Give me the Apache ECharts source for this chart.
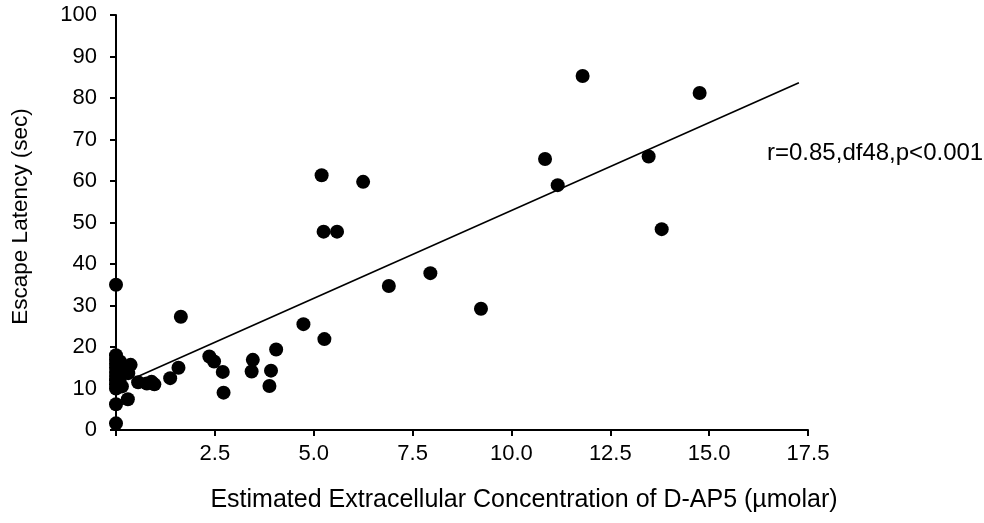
<!DOCTYPE html>
<html>
<head>
    <meta charset="utf-8"/>
    <title>Escape latency vs D-AP5</title>
    <script src="https://cdn.jsdelivr.net/npm/echarts@6/dist/echarts.min.js"></script>
    <style>
        html, body { margin: 0; padding: 0; background: #fff; }
        #mychart { width: 984px; height: 523px; }
    </style>
</head>
<body>
<div id="mychart"></div>
<script>
    // concentration (umolar) of each animal
    var concX = [
        0, 1.64, 4.74, 4.05, 2.36, 2.48, 3.46, 3.43, 3.92, 3.88,
        2.70, 2.72, 1.58, 1.37, 0.97, 0.78, 0.56, 0.37, 0.30, 0,
        0, 5.27, 5.20, 6.25, 5.25, 5.59, 6.90, 7.95, 9.23, 10.85,
        11.17, 11.80, 13.47, 13.80, 14.76,
        0, 0, 0, 0, 0, 0, 0, 0, 0, 0.10, 0.10, 0.15, 0.20, 0.31, 0.90
    ];
    // escape latency (sec)
    var latencyY = [
        35, 27.3, 25.5, 19.4, 17.7, 16.5, 16.9, 14.1, 14.3, 10.6,
        14.0, 9.0, 15.0, 12.5, 11.0, 11.2, 11.5, 15.7, 7.4, 6.2,
        1.6, 21.9, 61.4, 59.8, 47.8, 47.8, 34.7, 37.8, 29.2, 65.3,
        59.0, 85.3, 65.9, 48.4, 81.2,
        18, 17, 16, 15, 14, 13, 12, 11, 10, 16.5, 12.5, 10.5, 14.5, 13.7, 11.6
    ];
    // fitted regression line ends
    var fitX = [0.44, 17.27];
    var fitY = [12.4, 83.7];
    var statText = 'r=0.85,df48,p<0.001';

    var points = [];
    for (var i = 0; i < concX.length; i++) {
        points.push([concX[i], latencyY[i]]);
    }
    var fitLine = [];
    for (var j = 0; j < fitX.length; j++) {
        fitLine.push([fitX[j], fitY[j]]);
    }

    var font = 'Liberation Sans, Arial, sans-serif';
    var myChart = echarts.init(document.getElementById('mychart'));
    var option = {
        animation: false,
        grid: { left: 116, right: 176, top: 15, bottom: 93 },
        xAxis: {
            type: 'value',
            min: 0,
            max: 17.5,
            interval: 2.5,
            splitLine: { show: false },
            axisLine: { lineStyle: { color: '#000', width: 2 } },
            axisTick: { inside: false, length: 6, lineStyle: { color: '#000', width: 2 } },
            axisLabel: {
                color: '#000', fontFamily: font, fontSize: 22, margin: 13,
                formatter: function (v) { return v === 0 ? '' : v.toFixed(1); }
            },
            name: 'Estimated Extracellular Concentration of D-AP5 (µmolar)',
            nameLocation: 'middle',
            nameGap: 58,
            nameTextStyle: { color: '#000', fontFamily: font, fontSize: 25, padding: [0, 0, 0, 124] }
        },
        yAxis: {
            type: 'value',
            min: 0,
            max: 100,
            interval: 10,
            splitLine: { show: false },
            axisLine: { lineStyle: { color: '#000', width: 2 } },
            axisTick: { inside: false, length: 6, lineStyle: { color: '#000', width: 2 } },
            axisLabel: { color: '#000', fontFamily: font, fontSize: 22, margin: 19 },
            name: 'Escape Latency (sec)',
            nameLocation: 'middle',
            nameGap: 84,
            nameTextStyle: { color: '#000', fontFamily: font, fontSize: 22.5, padding: [0, 0, 0, 12] }
        },
        series: [
            {
                type: 'scatter',
                data: points,
                symbolSize: 14,
                itemStyle: { color: '#000', opacity: 1 },
                z: 3
            },
            {
                type: 'line',
                data: fitLine,
                showSymbol: false,
                lineStyle: { color: '#000', width: 1.6 },
                z: 2
            }
        ],
        graphic: [
            {
                type: 'text',
                left: 767,
                top: 141,
                style: { text: statText, fill: '#000', font: '24px Liberation Sans, Arial, sans-serif' }
            }
        ]
    };
    myChart.setOption(option);
</script>
</body>
</html>
